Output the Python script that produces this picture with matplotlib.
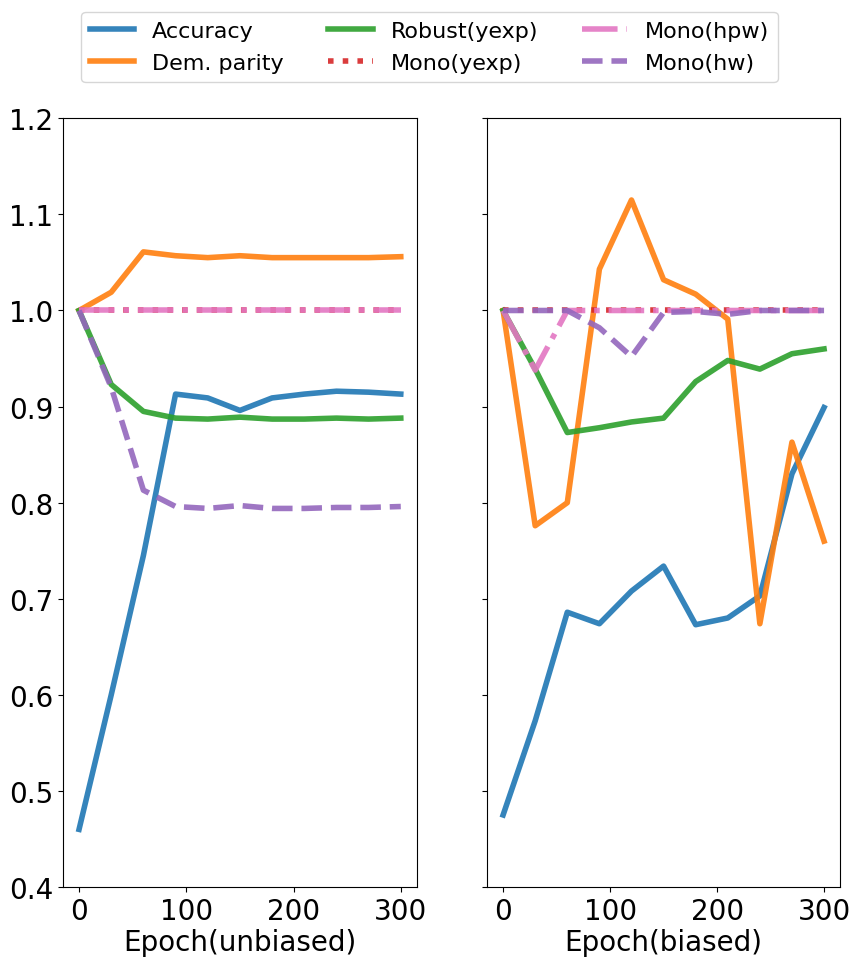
import matplotlib
matplotlib.use("Agg")
import matplotlib.pyplot as plt
import numpy as np

EPOCHS = [0, 30, 60, 90, 120, 150, 180, 210, 240, 270, 300]

# unbiased run
ACC_U = [0.46, 0.60, 0.745, 0.913, 0.909, 0.896, 0.909, 0.913, 0.916, 0.915, 0.913]
DP_U = [1.0, 1.019, 1.061, 1.057, 1.055, 1.057, 1.055, 1.055, 1.055, 1.055, 1.056]
ROB_U = [1.0, 0.923, 0.895, 0.888, 0.887, 0.889, 0.887, 0.887, 0.888, 0.887, 0.888]
MONO_YEXP_U = [1.0] * 11
MONO_HPW_U = [1.0] * 11
MONO_HW_U = [1.0, 0.92, 0.813, 0.796, 0.794, 0.797, 0.794, 0.794, 0.795, 0.795, 0.796]

# biased run
ACC_B = [0.475, 0.573, 0.686, 0.674, 0.708, 0.734, 0.673, 0.680, 0.703, 0.830, 0.899]
DP_B = [1.0, 0.776, 0.80, 1.043, 1.115, 1.032, 1.017, 0.991, 0.674, 0.863, 0.760]
ROB_B = [1.0, 0.939, 0.873, 0.878, 0.884, 0.888, 0.926, 0.948, 0.939, 0.955, 0.960]
MONO_YEXP_B = [1.0] * 11
MONO_HPW_B = [1.0, 0.938, 1.0, 1.0, 1.0, 1.0, 1.0, 1.0, 1.0, 1.0, 1.0]
MONO_HW_B = [1.0, 1.0, 1.0, 0.982, 0.952, 0.998, 0.999, 0.996, 1.0, 1.0, 1.0]

LABELS = ["Accuracy", "Dem. parity", "Robust(yexp)", "Mono(yexp)", "Mono(hpw)", "Mono(hw)"]
COLORS = ["#1f77b4", "#ff7f0e", "#2ca02c", "#d62728", "#e377c2", "#9467bd"]
STYLES = ["-", "-", "-", ":", "-.", "--"]

fig = plt.figure(figsize=(8.59, 9.7), dpi=100)
ax1 = fig.add_axes([0.0733, 0.0845, 0.412, 0.7925])
ax2 = fig.add_axes([0.567, 0.0845, 0.411, 0.7925], sharey=ax1)

series_u = [ACC_U, DP_U, ROB_U, MONO_YEXP_U, MONO_HPW_U, MONO_HW_U]
series_b = [ACC_B, DP_B, ROB_B, MONO_YEXP_B, MONO_HPW_B, MONO_HW_B]

handles = []
for ax, series in [(ax1, series_u), (ax2, series_b)]:
    for ys, lab, c, ls in zip(series, LABELS, COLORS, STYLES):
        h, = ax.plot(EPOCHS, ys, color=c, linestyle=ls, linewidth=4,
                     alpha=0.9, label=lab)
        if ax is ax1:
            handles.append(h)
    ax.tick_params(labelsize=20)

ax1.set_ylim(0.4, 1.2)
ax1.set_yticks(np.arange(0.4, 1.21, 0.1))
plt.setp(ax2.get_yticklabels(), visible=False)
ax1.set_xlabel("Epoch(unbiased)", fontsize=20, labelpad=2)
ax2.set_xlabel("Epoch(biased)", fontsize=20, labelpad=2)

fig.legend(handles=handles, ncol=3, fontsize=16, loc="upper center",
           bbox_to_anchor=(0.5, 0.998), labelspacing=0.55)

fig.savefig("out.png", dpi=100)
